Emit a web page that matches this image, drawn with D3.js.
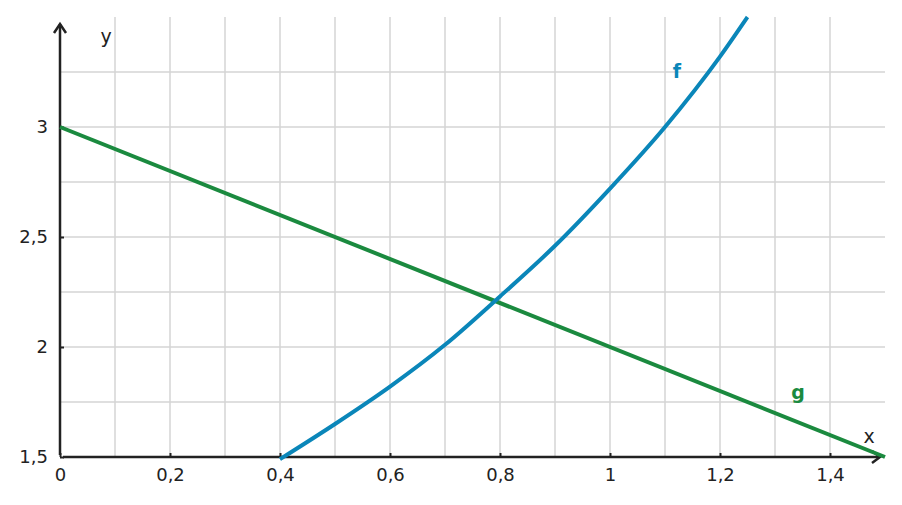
<!DOCTYPE html>
<html>
<head>
<meta charset="utf-8">
<script src="https://cdn.jsdelivr.net/npm/d3@7"></script>
<style>
  body { margin: 0; background: #fff; }
  text { font-family: "DejaVu Sans", sans-serif; }
</style>
</head>
<body>
<div id="chart"></div>
<script>
// values
var fX = [0.4, 0.5, 0.6, 0.7, 0.8, 0.9, 1.0, 1.1, 1.2, 1.25];
var fY = [1.49, 1.65, 1.82, 2.01, 2.23, 2.46, 2.72, 3.0, 3.32, 3.5];
var gX = [0, 1.5];
var gY = [3, 1.5];
var xTicks = [0, 0.2, 0.4, 0.6, 0.8, 1, 1.2, 1.4];
var yTicks = [1.5, 2, 2.5, 3];

var width = 902, height = 505;
var fmt = function (d) { return String(d).replace(".", ","); };

var svg = d3.select("#chart").append("svg")
    .attr("width", width)
    .attr("height", height);

var x = d3.scaleLinear().domain([0, 1.5]).range([60, 885]);
var y = d3.scaleLinear().domain([1.5, 3.5]).range([457, 17]);

// grid
svg.append("g").selectAll("line")
    .data(d3.range(1, 15).map(function (i) { return i / 10; }))
    .enter().append("line")
    .attr("x1", function (d) { return x(d); })
    .attr("x2", function (d) { return x(d); })
    .attr("y1", y(3.5))
    .attr("y2", y(1.5))
    .attr("stroke", "#d4d4d4")
    .attr("stroke-width", 1.5);

svg.append("g").selectAll("line")
    .data(d3.range(1, 8).map(function (i) { return 1.5 + i * 0.25; }))
    .enter().append("line")
    .attr("x1", x(0))
    .attr("x2", x(1.5))
    .attr("y1", function (d) { return y(d); })
    .attr("y2", function (d) { return y(d); })
    .attr("stroke", "#d4d4d4")
    .attr("stroke-width", 1.5);

// axes
var axisColor = "#222";
var xAxis = svg.append("g").attr("transform", "translate(0," + y(1.5) + ")")
    .call(d3.axisBottom(x).tickValues(xTicks).tickFormat(fmt).tickSize(-4).tickPadding(11));
xAxis.select(".domain").remove();
xAxis.selectAll(".tick line").attr("stroke", axisColor).attr("stroke-width", 2);
xAxis.selectAll("text").attr("font-size", 18).attr("fill", "#222")
    .attr("font-family", "DejaVu Sans, sans-serif");

var yAxis = svg.append("g").attr("transform", "translate(" + x(0) + ",0)")
    .call(d3.axisLeft(y).tickValues(yTicks).tickFormat(fmt).tickSize(-4).tickPadding(12));
yAxis.select(".domain").remove();
yAxis.selectAll(".tick line").attr("stroke", axisColor).attr("stroke-width", 2);
yAxis.selectAll("text").attr("font-size", 18).attr("fill", "#222")
    .attr("font-family", "DejaVu Sans, sans-serif");

svg.append("line")
    .attr("x1", x(0) + 3).attr("x2", x(1.5) - 6)
    .attr("y1", y(1.5)).attr("y2", y(1.5))
    .attr("stroke", axisColor).attr("stroke-width", 2.5);
svg.append("line")
    .attr("x1", x(0)).attr("x2", x(0))
    .attr("y1", y(1.5) - 2).attr("y2", 24)
    .attr("stroke", axisColor).attr("stroke-width", 2.5);

// arrow heads
svg.append("path")
    .attr("d", "M" + (x(1.5) - 13) + "," + (y(1.5) - 6) + " L" + (x(1.5) - 5) + "," + y(1.5) +
        " L" + (x(1.5) - 13) + "," + (y(1.5) + 6))
    .attr("fill", "none").attr("stroke", axisColor).attr("stroke-width", 2.5);
svg.append("path")
    .attr("d", "M" + (x(0) - 6) + ",33 L" + x(0) + ",24 L" + (x(0) + 6) + ",33")
    .attr("fill", "none").attr("stroke", axisColor).attr("stroke-width", 2.5);

svg.append("text").attr("x", 106).attr("y", 43).attr("text-anchor", "middle")
    .attr("font-size", 19).attr("fill", "#222").text("y");
svg.append("text").attr("x", 869).attr("y", 443).attr("text-anchor", "middle")
    .attr("font-size", 19).attr("fill", "#222").text("x");

// curves
var line = d3.line()
    .x(function (d) { return x(d[0]); })
    .y(function (d) { return y(d[1]); });

svg.append("path")
    .datum(d3.zip(gX, gY))
    .attr("d", line)
    .attr("fill", "none")
    .attr("stroke", "#1b8a3f")
    .attr("stroke-width", 4);

svg.append("path")
    .datum(d3.zip(fX, fY))
    .attr("d", line.curve(d3.curveMonotoneX))
    .attr("fill", "none")
    .attr("stroke", "#0a86b9")
    .attr("stroke-width", 4);

svg.append("text").attr("x", 677).attr("y", 78).attr("text-anchor", "middle")
    .attr("font-size", 19).attr("font-weight", "bold").attr("fill", "#0a86b9").text("f");
svg.append("text").attr("x", 798).attr("y", 399).attr("text-anchor", "middle")
    .attr("font-size", 19).attr("font-weight", "bold").attr("fill", "#1b8a3f").text("g");
</script>
</body>
</html>
